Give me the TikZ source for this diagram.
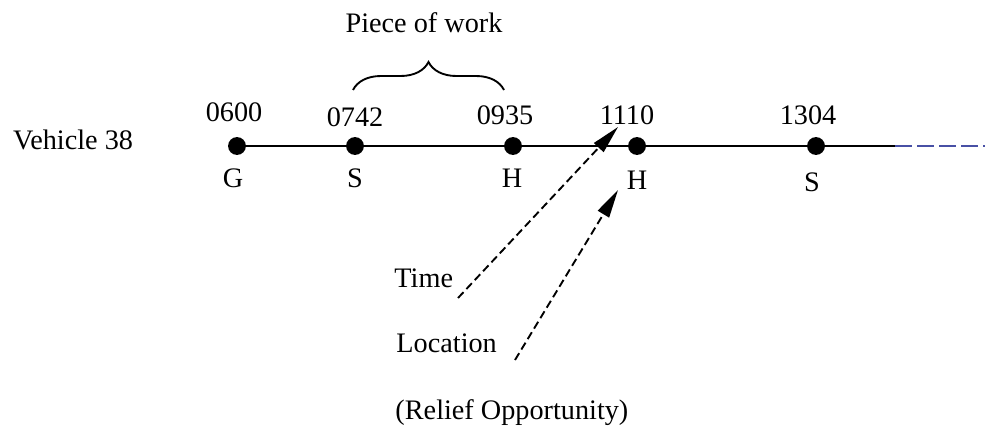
\documentclass[tikz,border=0pt]{standalone}
\usepackage{fontspec}
\setmainfont{Liberation Serif}
\usetikzlibrary{arrows.meta,decorations.pathreplacing}
\definecolor{dashblue}{RGB}{72,80,165}
\begin{document}
\begin{tikzpicture}[x=0.425pt,y=-0.425pt,
  lbl/.style={inner sep=0pt,font=\fontsize{12pt}{14pt}\selectfont},
  dot/.style={circle,fill=black,inner sep=0pt,minimum size=7.6pt},
  ptr/.style={dashed,dash pattern=on 3.4pt off 1.8pt,line width=0.8pt,
    -{Triangle[length=12pt,width=5.5pt]}}]
\useasboundingbox (0,0) rectangle (985,430);
% stops
\coordinate (lend) at (895,146);
\coordinate (rend) at (985,146);
\draw[line width=0.85pt] (237,146) -- (lend);
\draw[dashblue,line width=0.85pt,dash pattern=on 7.2pt off 2.2pt] (lend) -- (rend);
\node[dot] (d1) at (237,146) {};
\node[dot] (d2) at (355,146) {};
\node[dot] (d3) at (513,146) {};
\node[dot] (d4) at (637,146) {};
\node[dot] (d5) at (816,146) {};
% times
\node[lbl] (t1) at (234,112) {0600};
\node[lbl] (t2) at (355,117) {0742};
\node[lbl] (t3) at (505,115) {0935};
\node[lbl] (t4) at (627,115) {1110};
\node[lbl] (t5) at (808,115) {1304};
% locations
\node[lbl] (l1) at (233,178) {G};
\node[lbl] (l2) at (355,178) {S};
\node[lbl] (l3) at (512,178) {H};
\node[lbl] (l4) at (637,180) {H};
\node[lbl] (l5) at (812,182) {S};
% vehicle
\node[lbl] (veh) at (73,140) {Vehicle 38};
% piece of work
\node[lbl] (pow) at (424,23) {Piece of work};
\coordinate (bl) at (353,90);
\coordinate (br) at (504,90);
\draw[line width=0.8pt,decorate,decoration={brace,amplitude=11.9pt}] (bl) -- (br);
% relief opportunity
\node[lbl,anchor=west] (time) at (394,278) {Time};
\node[lbl,anchor=west] (loc) at (396,343) {Location};
\node[lbl,anchor=west] (rel) at (395,413) {(Relief Opportunity)};
\coordinate (a1s) at (458,298);
\coordinate (a1e) at (618,127);
\coordinate (a2s) at (515,360);
\coordinate (a2e) at (618,190);
\draw[ptr] (a1s) -- (a1e);
\draw[ptr] (a2s) -- (a2e);
\end{tikzpicture}
\end{document}
